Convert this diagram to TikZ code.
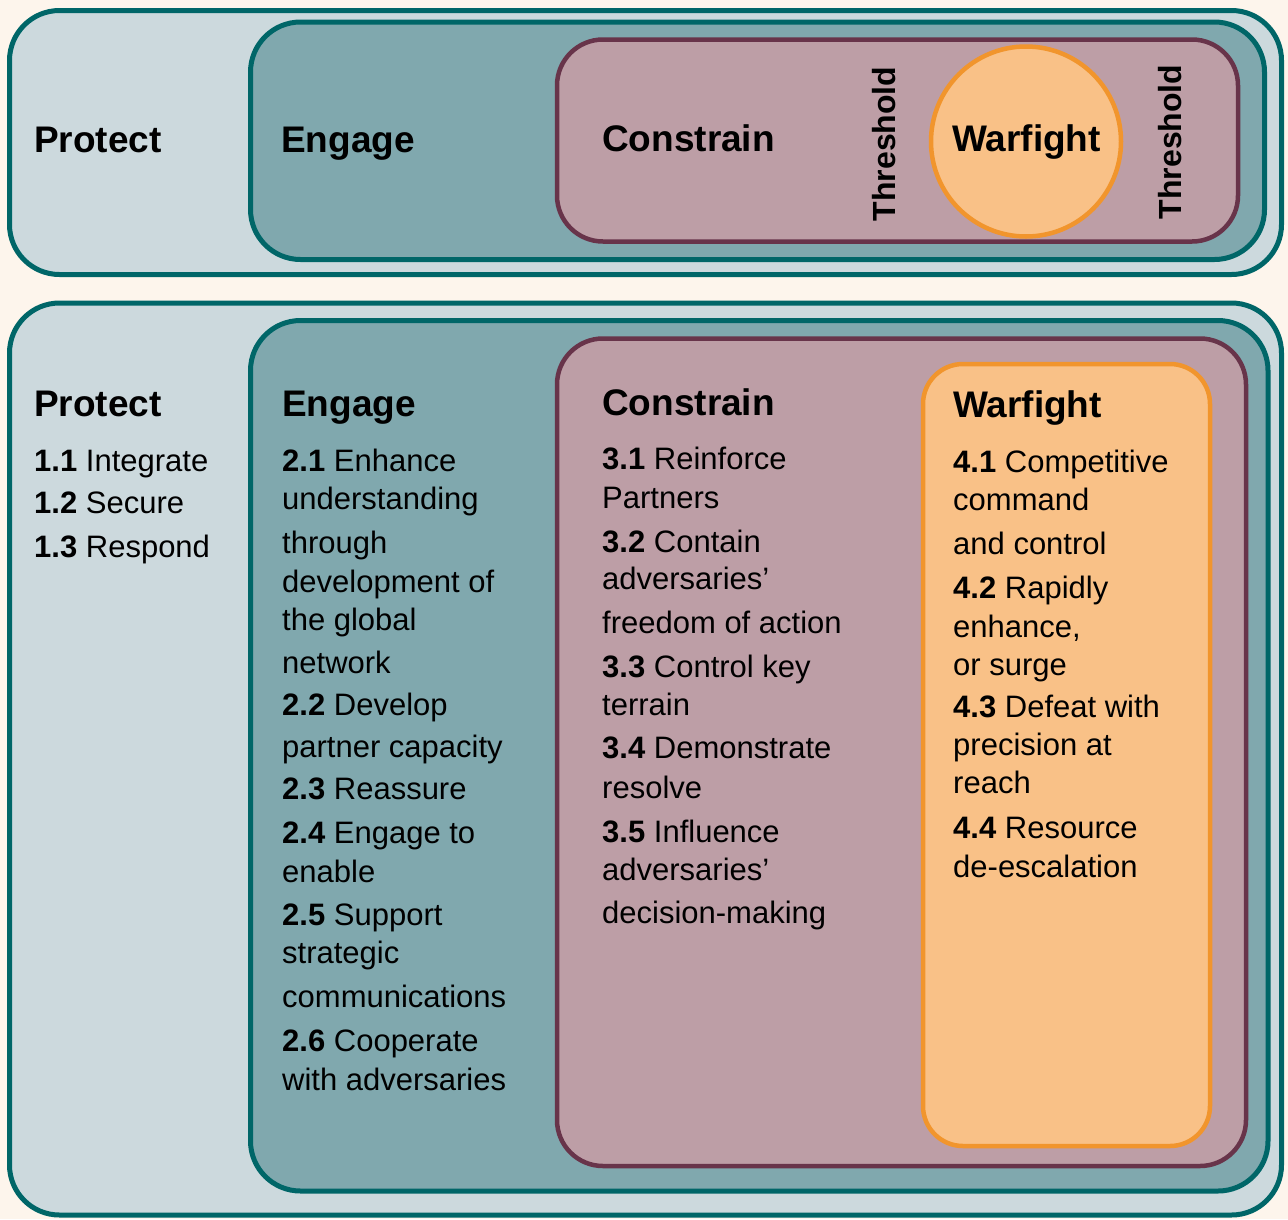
\documentclass[tikz,border=0pt]{standalone}
\usepackage{fontspec}
\usepackage{xcolor}
\setmainfont{Liberation Sans}
\definecolor{cream}{HTML}{FDF5EC}
\definecolor{protectfill}{HTML}{CCD9DD}
\definecolor{tealline}{HTML}{006668}
\definecolor{engagefill}{HTML}{80A8AE}
\definecolor{constrainfill}{HTML}{BD9EA6}
\definecolor{constrainline}{HTML}{68344A}
\definecolor{warfill}{HTML}{F9C187}
\definecolor{warline}{HTML}{F1952D}

\tikzset{
    protectbox/.style={draw=tealline,fill=protectfill,line width=5pt,rounded corners=50pt},
    engagebox/.style={draw=tealline,fill=engagefill,line width=5pt,rounded corners=50pt},
    constrainbox/.style={draw=constrainline,fill=constrainfill,line width=4.5pt,rounded corners=46pt},
    warbox/.style={draw=warline,fill=warfill,line width=4.5pt,rounded corners=40pt},
    heading/.style={anchor=base west,inner sep=0pt,font=\fontsize{37}{44}\selectfont\bfseries},
    item/.style={anchor=base west,inner sep=0pt,font=\fontsize{31}{37}\selectfont},
    thresh/.style={anchor=base,rotate=90,inner sep=0pt,font=\fontsize{32}{38}\selectfont\bfseries}
}

\begin{document}
\begin{tikzpicture}[x=1pt,y=-1pt]
        \fill[cream] (0,0) rectangle (1288,1219);
        \useasboundingbox (0,0) rectangle (1288,1219);

        \draw[protectbox] (9.5,10.5) rectangle (1281.5,274.5);
        \draw[engagebox] (250.5,22) rectangle (1264.5,259.5);
        \draw[constrainbox] (557,39.5) rectangle (1238,241.5);
        \node[circle,draw=warline,fill=warfill,line width=4.5pt,minimum size=190pt,inner sep=0pt] (warcircle) at (1026,141.5) {};

        \node[heading] (protecttop) at (34,152) {Protect};
        \node[heading] (engagetop) at (281,152) {Engage};
        \node[heading] (constraintop) at (602,151) {Constrain};
        \node[heading] (warfighttop) at (952,151) {Warfight};
        \node[thresh] (threshleft) at (895,144) {Threshold};
        \node[thresh] (threshright) at (1181,142) {Threshold};

        \draw[protectbox] (9.5,303) rectangle (1281.5,1215);
        \draw[engagebox] (250.5,320.5) rectangle (1268,1191);
        \draw[constrainbox] (557,338.5) rectangle (1246,1166);
        \draw[warbox] (923,364) rectangle (1210,1146);

        \node[heading] (protect) at (34,416) {Protect};
        \node[heading] (engage) at (282,416) {Engage};
        \node[heading] (constrain) at (602,415) {Constrain};
        \node[heading] (warfight) at (953,417) {Warfight};

        \foreach \y/\t [count=\i] in {471/{\textbf{1.1} Integrate},513/{\textbf{1.2} Secure},557/{\textbf{1.3} Respond}}
            \node[item] (prot\i) at (34,\y) {\t};

        \foreach \y/\t [count=\i] in {471/{\textbf{2.1} Enhance},509/understanding,553/through,592/{development of},
            630/{the global},673/network,715/{\textbf{2.2} Develop},757/{partner capacity},799/{\textbf{2.3} Reassure},
            843/{\textbf{2.4} Engage to},882/enable,925/{\textbf{2.5} Support},963/strategic,1007/communications,
            1051/{\textbf{2.6} Cooperate},1090/{with adversaries}}
            \node[item] (eng\i) at (282,\y) {\t};

        \foreach \y/\t [count=\i] in {469/{\textbf{3.1} Reinforce},508/Partners,552/{\textbf{3.2} Contain},589/{adversaries’},
            633/{freedom of action},677/{\textbf{3.3} Control key},715/terrain,758/{\textbf{3.4} Demonstrate},798/resolve,
            842/{\textbf{3.5} Influence},880/{adversaries’},923/{decision-making}}
            \node[item] (con\i) at (602,\y) {\t};

        \foreach \y/\t [count=\i] in {472/{\textbf{4.1} Competitive},510/command,554/{and control},598/{\textbf{4.2} Rapidly},
            637/{enhance,},675/{or surge},717/{\textbf{4.3} Defeat with},755/{precision at},793/reach,
            838/{\textbf{4.4} Resource},877/{de-escalation}}
            \node[item] (war\i) at (953,\y) {\t};
\end{tikzpicture}
\end{document}
